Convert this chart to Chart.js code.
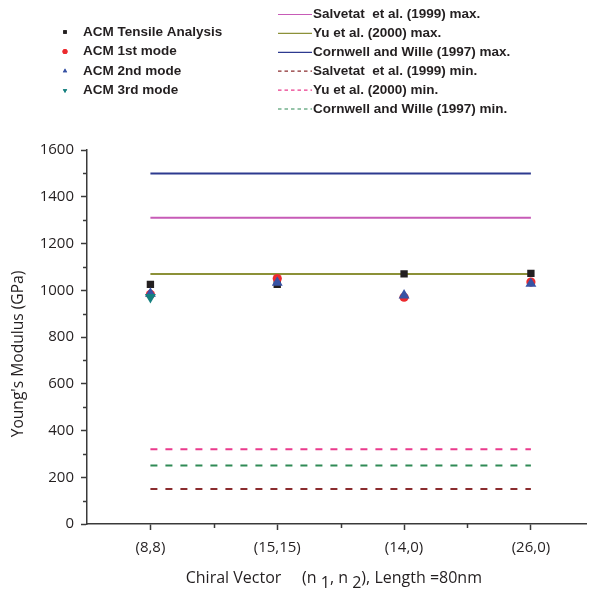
<!DOCTYPE html>
<html>
<head>
<meta charset="utf-8">
<script src="https://cdn.jsdelivr.net/npm/chart.js@4"></script>
<style>
  html, body { margin: 0; padding: 0; background: #fff; }
  #wrap { width: 593px; height: 592px; position: relative; }
</style>
</head>
<body>
<div id="wrap"><canvas id="modChart"></canvas></div>
<script>
// chiral vectors on the x axis
const categories = ['(8,8)', '(15,15)', '(14,0)', '(26,0)'];

// ACM results (GPa)
const tensile = [1025, 1025, 1070, 1072];
const mode1 = [982, 1050, 970, 1035];
const mode2 = [986, 1033, 978, 1028];
const mode3 = [970, null, null, null];

// published bounds (GPa)
const refLabels = [
  'Salvetat  et al. (1999) max.',
  'Yu et al. (2000) max.',
  'Cornwell and Wille (1997) max.',
  'Salvetat  et al. (1999) min.',
  'Yu et al. (2000) min.',
  'Cornwell and Wille (1997) min.'
];
const refValues = [1310, 1070, 1500, 150, 320, 250];
const refColors = ['#c75bb7', '#8c9138', '#2d3a8f', '#8a2c2e', '#ea3a8c', '#2f8a55'];

const yTicks = [0, 200, 400, 600, 800, 1000, 1200, 1400, 1600];

const pts = arr => arr.map((v, i) => ({ x: i + 1, y: v }));

const markerSets = [
  { label: 'ACM Tensile Analysis', data: pts(tensile), pointStyle: 'rect', radius: 5.2, color: '#231f20', rot: 0 },
  { label: 'ACM 1st mode', data: pts(mode1), pointStyle: 'circle', radius: 4.6, color: '#ec2a2e', rot: 0 },
  { label: 'ACM 2nd mode', data: pts(mode2), pointStyle: 'triangle', radius: 6.3, color: '#3853a4', rot: 0 },
  { label: 'ACM 3rd mode', data: pts(mode3), pointStyle: 'triangle', radius: 6.3, color: '#16807f', rot: 180 }
];

const datasets = [];
refValues.forEach((v, i) => {
  datasets.push({
    label: refLabels[i],
    data: [{ x: 1, y: v }, { x: categories.length, y: v }],
    showLine: true,
    borderColor: refColors[i],
    borderWidth: 2,
    borderDash: i >= 3 ? [7, 8] : [],
    pointRadius: 0,
    pointHoverRadius: 0,
    order: 20
  });
});
// later series sit on top of earlier ones
markerSets.forEach((m, i) => {
  datasets.push({
    label: m.label,
    data: m.data,
    pointStyle: m.pointStyle,
    pointRadius: m.radius,
    pointRotation: m.rot,
    backgroundColor: m.color,
    borderColor: m.color,
    borderWidth: 0,
    order: 10 - i
  });
});

// legend at the top, two columns, minor ticks and both axis titles
const extras = {
  id: 'extras',
  afterDraw(chart) {
    const c = chart.ctx;
    const area = chart.chartArea;
    const ys = chart.scales.y, xs = chart.scales.x;
    c.save();

    // minor ticks
    c.strokeStyle = '#3a3a3a';
    c.lineWidth = 1.5;
    for (let v = 100; v < 1600; v += 200) {
      const py = Math.round(ys.getPixelForValue(v)) + 0.5;
      c.beginPath(); c.moveTo(area.left - 4, py); c.lineTo(area.left, py); c.stroke();
    }
    for (let v = 1.5; v < categories.length; v += 1) {
      const px = Math.round(xs.getPixelForValue(v)) + 0.5;
      c.beginPath(); c.moveTo(px, area.bottom); c.lineTo(px, area.bottom + 4); c.stroke();
    }

    // marker legend
    c.font = 'bold 13.5px "Liberation Sans", Arial, sans-serif';
    c.textBaseline = 'middle';
    markerSets.forEach((m, i) => {
      const y = 32 + i * 19.5;
      c.fillStyle = m.color;
      Chart.helpers.drawPoint(c, { pointStyle: m.pointStyle, radius: 2.5, rotation: m.rot, borderWidth: 0 }, 65, y);
      c.fill();
      c.fillStyle = '#231f20';
      c.fillText(m.label, 83, y);
    });

    // line legend
    refLabels.forEach((lab, i) => {
      const y = 14.5 + i * 18.9;
      c.strokeStyle = refColors[i];
      c.lineWidth = 1.2;
      c.setLineDash(i >= 3 ? [3.5, 3] : []);
      c.beginPath(); c.moveTo(278, y); c.lineTo(312, y); c.stroke();
      c.setLineDash([]);
      c.fillStyle = '#231f20';
      c.fillText(lab, 313, y);
    });

    // y title
    c.save();
    c.translate(19, 354);
    c.rotate(-Math.PI / 2);
    c.font = '15.6px "Open Sans", sans-serif';
    c.textAlign = 'center';
    c.textBaseline = 'middle';
    c.fillText("Young's Modulus (GPa)", 0, 0);
    c.restore();

    // x title with lowered subscripts
    const parts = [
      ['Chiral Vector', 0], ['     ', 0], ['(n', 0], [' 1', 1], [', n ', 0], ['2', 1], ['), Length =80nm', 0]
    ];
    c.font = '16px "Open Sans", sans-serif';
    let total = 0;
    parts.forEach(p => { total += c.measureText(p[0]).width; });
    let x = (area.left + area.right) / 2 - total / 2 - 3;
    c.textBaseline = 'alphabetic';
    c.textAlign = 'left';
    c.fillStyle = '#231f20';
    parts.forEach(p => {
      c.fillText(p[0], x, p[1] ? 588 : 583);
      x += c.measureText(p[0]).width;
    });
    c.restore();
  }
};

new Chart(document.getElementById('modChart'), {
  type: 'scatter',
  data: { datasets: datasets },
  options: {
    responsive: true,
    maintainAspectRatio: false,
    animation: false,
    layout: { padding: { top: 150, right: 0, left: 0, bottom: 0 } },
    plugins: { legend: { display: false }, tooltip: { enabled: false } },
    scales: {
      x: {
        type: 'linear',
        min: 0.5,
        max: 4.44,
        afterBuildTicks: s => { s.ticks = categories.map((c, i) => ({ value: i + 1 })); },
        afterFit: s => { s.height = 68; },
        ticks: {
          callback: v => categories[v - 1] || '',
          font: { family: 'Open Sans', size: 15 },
          color: '#231f20',
          padding: 9,
          maxRotation: 0,
          autoSkip: false
        },
        grid: { drawOnChartArea: false, tickLength: 6, tickColor: '#3a3a3a', tickWidth: 1.5 },
        border: { color: '#3a3a3a', width: 1.5 }
      },
      y: {
        min: 0,
        max: 1600,
        afterBuildTicks: s => { s.ticks = yTicks.map(v => ({ value: v })); },
        afterFit: s => { s.width = 87; },
        ticks: {
          callback: v => String(v),
          font: { family: 'Open Sans', size: 15 },
          color: '#231f20',
          padding: 7
        },
        grid: { drawOnChartArea: false, tickLength: 6, tickColor: '#3a3a3a', tickWidth: 1.5 },
        border: { color: '#3a3a3a', width: 1.5 }
      }
    }
  },
  plugins: [extras]
});
</script>
</body>
</html>
